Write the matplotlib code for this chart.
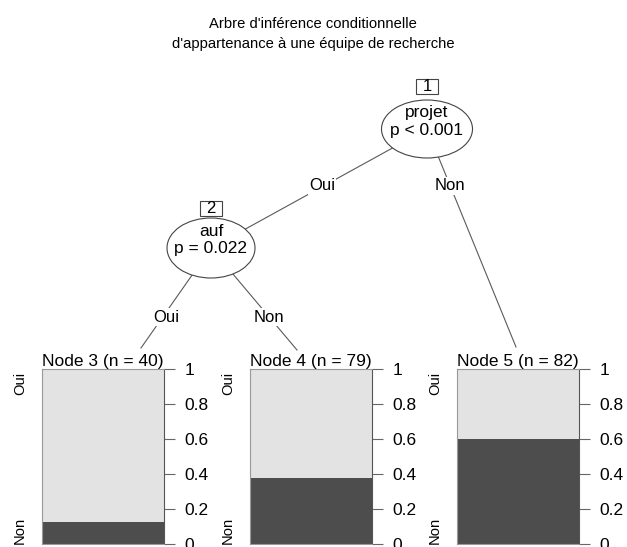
import matplotlib.pyplot as plt
from matplotlib.patches import Ellipse, Rectangle

plt.rcParams['font.family'] = ['Liberation Sans', 'DejaVu Sans']

# terminal nodes: id, size and share of "Non"
node_ids = [3, 4, 5]
node_n = [40, 79, 82]
prop_non = [0.125, 0.38, 0.598]
classes = ['Oui', 'Non']
yticks = [0, 0.2, 0.4, 0.6, 0.8, 1]
yticklabels = ['0', '0.2', '0.4', '0.6', '0.8', '1']

# inner nodes
inner_ids = [1, 2]
inner_var = ['projet', 'auf']
inner_p = ['p < 0.001', 'p = 0.022']
edge_labels = ['Oui', 'Non', 'Oui', 'Non']

title = "Arbre d'inférence conditionnelle\nd'appartenance à une équipe de recherche"

W, H = 627, 547
fig = plt.figure(figsize=(W / 100, H / 100), dpi=100)
ax = fig.add_axes([0, 0, 1, 1])
ax.set_xlim(0, W)
ax.set_ylim(H, 0)
ax.axis('off')

line_col = '#5a5a5a'

ax.text(313, 34, title, ha='center', va='center', fontsize=10.6,
        linespacing=1.55)

# layout in pixels
inner_xy = [(427, 129), (211, 248)]
ell_size = [(91, 58), (88, 60)]
box_top = [79, 201]
# edges: (parent, end point, label position)
edges = [
    (0, inner_xy[1], (322, 186)),
    (0, (516, 347), (450, 186)),
    (1, (141, 348), (166, 317)),
    (1, (297, 350), (269, 317)),
]

for (par, end, lab), txt in zip(edges, edge_labels):
    px, py = inner_xy[par]
    ax.plot([px, end[0]], [py, end[1]], color=line_col, lw=0.8, zorder=1)
    ax.text(lab[0], lab[1], txt, ha='center', va='center', fontsize=12,
            zorder=3, bbox=dict(facecolor='white', edgecolor='none', pad=1))

for i in range(len(inner_ids)):
    x, y = inner_xy[i]
    w, h = ell_size[i]
    ax.add_patch(Ellipse((x, y), w, h, facecolor='white', edgecolor='#444444',
                         lw=0.8, zorder=2))
    ax.add_patch(Rectangle((x - 11, box_top[i]), 22, 15, facecolor='white',
                           edgecolor='#444444', lw=0.8, zorder=4))
    ax.text(x, box_top[i] + 7.5, str(inner_ids[i]), ha='center', va='center',
            fontsize=12, zorder=5)
    ax.text(x, y - 17, inner_var[i], ha='center', va='center', fontsize=12.5,
            zorder=5)
    ax.text(x, y + 1, inner_p[i], ha='center', va='center', fontsize=12.5,
            zorder=5)

# terminal panels
bar_left = [42, 250, 457]
bar_w, bar_top, bar_bot = 122, 369, 544
light, dark = '#e3e3e3', '#4d4d4d'

for i in range(len(node_ids)):
    pax = fig.add_axes([bar_left[i] / W, (H - bar_bot) / H, bar_w / W,
                        (bar_bot - bar_top) / H])
    pax.bar([0], [prop_non[i]], width=1, color=dark, edgecolor='none')
    pax.bar([0], [1 - prop_non[i]], bottom=[prop_non[i]], width=1,
            color=light, edgecolor='none')
    pax.set_xlim(-0.5, 0.5)
    pax.set_ylim(0, 1)
    pax.set_xticks([])
    pax.yaxis.tick_right()
    pax.set_yticks(yticks)
    pax.set_yticklabels(yticklabels, fontsize=12.5)
    pax.tick_params(axis='y', length=8, pad=7, color='#666666', width=0.8)
    for s in pax.spines.values():
        s.set_color('#999999')
        s.set_linewidth(0.8)
    pax.spines['right'].set_color('#555555')
    pax.set_title('Node %d (n = %d)' % (node_ids[i], node_n[i]), loc='left',
                  fontsize=12.5, pad=1)
    pax.text(-0.18, 0.985, classes[0], transform=pax.transAxes, rotation=90,
             ha='center', va='top', fontsize=10.6)
    pax.text(-0.18, 0.0, classes[1], transform=pax.transAxes, rotation=90,
             ha='center', va='bottom', fontsize=10.6)

fig.savefig('out.png', dpi=100)
